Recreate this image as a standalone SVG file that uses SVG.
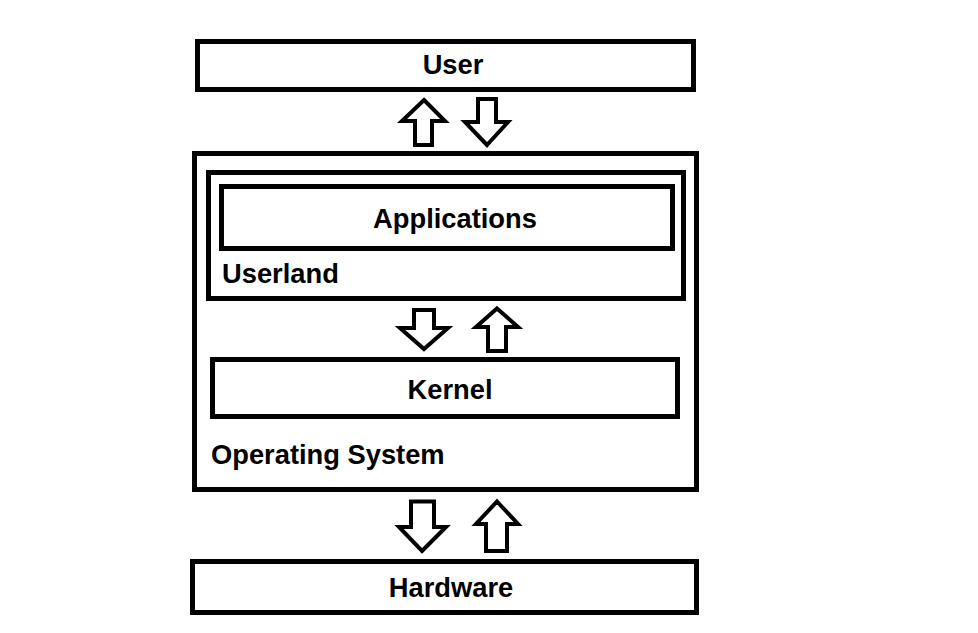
<svg xmlns="http://www.w3.org/2000/svg" width="978" height="633" viewBox="0 0 978 633">
<style>
.box{fill:none;stroke:#000;stroke-width:5}
.arr{fill:#fff;stroke:#000;stroke-width:4;stroke-linejoin:miter}
.t{font-family:"Liberation Sans",Arial,sans-serif;font-weight:bold;font-size:27.3px;fill:#000}
.c{text-anchor:middle}
</style>
<rect width="978" height="633" fill="#fff"/>
<g id="user">
<rect class="box" x="197.5" y="41.5" width="496" height="48"/>
<text class="t c" x="453" y="74">User</text>
</g>
<g id="os">
<rect class="box" x="194.5" y="153.5" width="502" height="336"/>
<text class="t" x="211" y="464">Operating System</text>
</g>
<g id="userland">
<rect class="box" x="208.5" y="172.5" width="475" height="126"/>
<text class="t" x="222" y="283">Userland</text>
</g>
<g id="applications">
<rect class="box" x="221.5" y="186.5" width="451" height="62"/>
<text class="t c" x="455" y="228">Applications</text>
</g>
<g id="kernel">
<rect class="box" x="212.5" y="359.5" width="465" height="57"/>
<text class="t c" x="450" y="399">Kernel</text>
</g>
<g id="hardware">
<rect class="box" x="192.5" y="561.5" width="504" height="51"/>
<text class="t c" x="451" y="597">Hardware</text>
</g>
<g id="connectors">
<path class="arr" d="M424,100 L445,121 L432,121 L432,145 L415,145 L415,121 L402,121 Z"/>
<path class="arr" d="M487,145 L508,122 L496,122 L496,99 L478,99 L478,122 L465,122 Z"/>
<path class="arr" d="M424,349 L448,328 L434,328 L434,310 L414,310 L414,328 L400,328 Z"/>
<path class="arr" d="M497,308.5 L518,327 L506,327 L506,351 L488,351 L488,327 L476,327 Z"/>
<path class="arr" d="M422,551 L446,527 L434,527 L434,501.5 L411,501.5 L411,527 L399,527 Z"/>
<path class="arr" d="M497,501.5 L518,524 L507,524 L507,551 L486,551 L486,524 L476,524 Z"/>
</g>
</svg>
